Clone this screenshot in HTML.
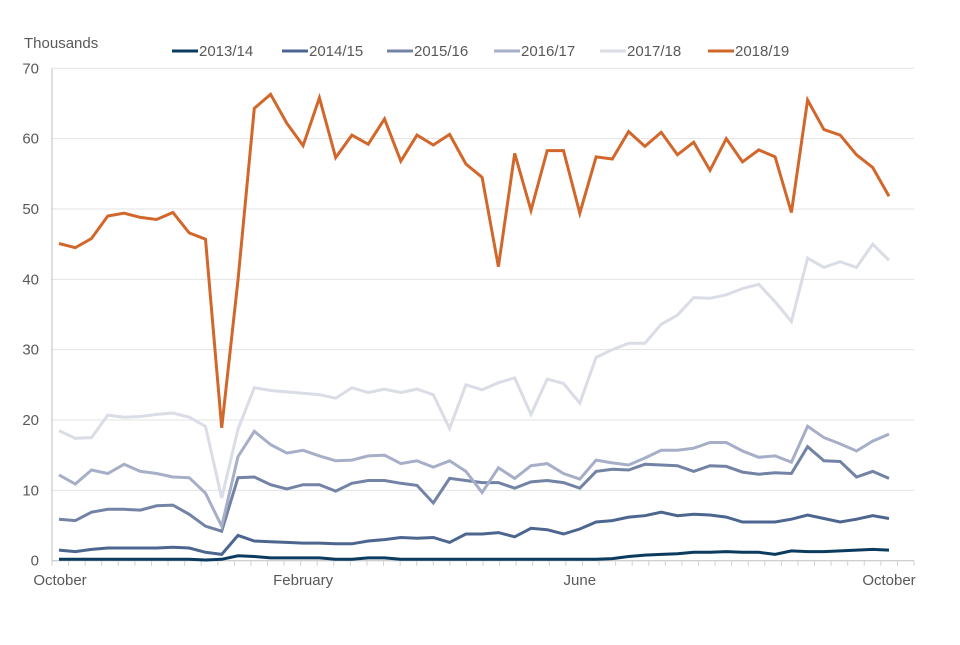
<!DOCTYPE html>
<html><head><meta charset="utf-8"><style>
html,body{margin:0;padding:0;background:#fff;}
svg text{font-family:"Liberation Sans",sans-serif;fill:#595959;}
</style></head><body>
<svg id="chart" width="960" height="640" viewBox="0 0 960 640" xmlns="http://www.w3.org/2000/svg">
<text x="24" y="48" font-size="15">Thousands</text>
<g id="grid"></g><g id="yticks"></g><g id="xaxis"></g><g id="series"></g><g id="legend"></g>
</svg>
<script>
const seriesNames = ["2013/14","2014/15","2015/16","2016/17","2017/18","2018/19"];
const seriesColors = ["#0b3b5e","#4d6690","#7383a5","#a7afc8","#dadce6","#d2672b"];
const s1314 = [0.2,0.2,0.2,0.2,0.2,0.2,0.2,0.2,0.2,0.1,0.2,0.7,0.6,0.4,0.4,0.4,0.4,0.2,0.2,0.4,0.4,0.2,0.2,0.2,0.2,0.2,0.2,0.2,0.2,0.2,0.2,0.2,0.2,0.2,0.3,0.6,0.8,0.9,1.0,1.2,1.2,1.3,1.2,1.2,0.9,1.4,1.3,1.3,1.4,1.5,1.6,1.5];
const s1415 = [1.5,1.3,1.6,1.8,1.8,1.8,1.8,1.9,1.8,1.2,0.9,3.6,2.8,2.7,2.6,2.5,2.5,2.4,2.4,2.8,3.0,3.3,3.2,3.3,2.6,3.8,3.8,4.0,3.4,4.6,4.4,3.8,4.5,5.5,5.7,6.2,6.4,6.9,6.4,6.6,6.5,6.2,5.5,5.5,5.5,5.9,6.5,6.0,5.5,5.9,6.4,6.0];
const s1516 = [5.9,5.7,6.9,7.3,7.3,7.2,7.8,7.9,6.6,4.9,4.2,11.8,11.9,10.8,10.2,10.8,10.8,9.9,11.0,11.4,11.4,11.0,10.7,8.2,11.7,11.4,11.1,11.1,10.3,11.2,11.4,11.1,10.3,12.7,13.0,12.9,13.7,13.6,13.5,12.7,13.5,13.4,12.6,12.3,12.5,12.4,16.2,14.2,14.1,11.9,12.7,11.7];
const s1617 = [12.2,10.9,12.9,12.4,13.7,12.7,12.4,11.9,11.8,9.6,4.9,14.8,18.4,16.5,15.3,15.7,14.9,14.2,14.3,14.9,15.0,13.8,14.2,13.3,14.2,12.7,9.7,13.2,11.7,13.5,13.8,12.4,11.6,14.3,13.9,13.6,14.6,15.7,15.7,16.0,16.8,16.8,15.6,14.7,14.9,14.0,19.1,17.5,16.6,15.6,17.0,18.0];
const s1718 = [18.5,17.4,17.5,20.7,20.4,20.5,20.8,21.0,20.4,19.1,8.9,18.7,24.6,24.2,24.0,23.8,23.6,23.1,24.6,23.9,24.4,23.9,24.4,23.6,18.8,25.0,24.3,25.3,26.0,20.8,25.8,25.2,22.4,28.9,30.0,30.9,30.9,33.6,34.9,37.4,37.3,37.8,38.7,39.3,36.8,34.0,43.0,41.7,42.5,41.7,45.0,42.7];
const s1819 = [45.1,44.5,45.8,49.0,49.4,48.8,48.5,49.5,46.6,45.7,18.9,39.9,64.3,66.3,62.2,59.0,65.8,57.3,60.5,59.2,62.8,56.8,60.5,59.1,60.6,56.4,54.5,41.8,57.9,49.8,58.3,58.3,49.4,57.4,57.1,61.0,58.9,60.9,57.7,59.5,55.5,60.0,56.7,58.4,57.4,49.5,65.5,61.3,60.5,57.7,55.9,51.8];
const allSeries = [s1314,s1415,s1516,s1617,s1718,s1819];
const yTicks = [0,10,20,30,40,50,60,70];
const xLabels = ["October","February","June","October"];
const xLabelIdx = [0,15,32,51];

const NS="http://www.w3.org/2000/svg";
const X0=59, X1=889, AX0=52, AX1=914, Y0=560.7, Y1=68.3;
const nPts = s1819.length;
function xs(i){return X0+(X1-X0)*i/(nPts-1);}
function ys(v){return Y0-(Y0-Y1)*v/70;}
function mk(tag,attrs,parent){const e=document.createElementNS(NS,tag);for(const k in attrs)e.setAttribute(k,attrs[k]);parent.appendChild(e);return e;}
const grid=document.getElementById('grid'),yt=document.getElementById('yticks'),xa=document.getElementById('xaxis'),sg=document.getElementById('series'),lg=document.getElementById('legend');
yTicks.forEach(t=>{
  if(t>0){const g=mk('line',{x1:AX0,x2:AX1,y1:ys(t),y2:ys(t),stroke:'#e3e3e3','stroke-width':1},grid);
  
  }
  const tx=mk('text',{x:39,y:ys(t)+5,'font-size':15,'text-anchor':'end'},yt);
  tx.textContent=t;
  
  
});
const ya=mk('line',{x1:AX0,x2:AX0,y1:Y1,y2:Y0+5,stroke:'#bfbfbf','stroke-width':1},xa);


const xl=mk('line',{x1:AX0,x2:AX1,y1:Y0,y2:Y0,stroke:'#bfbfbf','stroke-width':1},xa);


for(let i=0;i<=nPts;i++){const x=AX0+(AX1-AX0)*i/nPts;const tk=mk('line',{x1:x,x2:x,y1:Y0,y2:Y0+5,stroke:'#d0d0d0','stroke-width':1},xa);
  
  }
xLabels.forEach((l,k)=>{
  const cx = k===0?60:(k===xLabels.length-1?889:xs(xLabelIdx[k]));
  const t=mk('text',{x:cx,y:585,'font-size':15,'text-anchor':'middle'},xa);
  t.textContent=l;
  
  
});
allSeries.forEach((d,s)=>{
  const p=mk('polyline',{points:d.map((v,i)=>xs(i).toFixed(1)+','+ys(v).toFixed(1)).join(' '),fill:'none',stroke:seriesColors[s],'stroke-width':3,'stroke-linejoin':'miter'},sg);
  
  
});
const legX=[199,309,414,521,627,735];
seriesNames.forEach((n,s)=>{
  const g=mk('g',{},lg);
  
  
  mk('line',{x1:legX[s]-27,x2:legX[s]-1,y1:51,y2:51,stroke:seriesColors[s],'stroke-width':3},g);
  const t=mk('text',{x:legX[s],y:56,'font-size':15},g);
  t.textContent=n;
});
</script>
</body></html>
